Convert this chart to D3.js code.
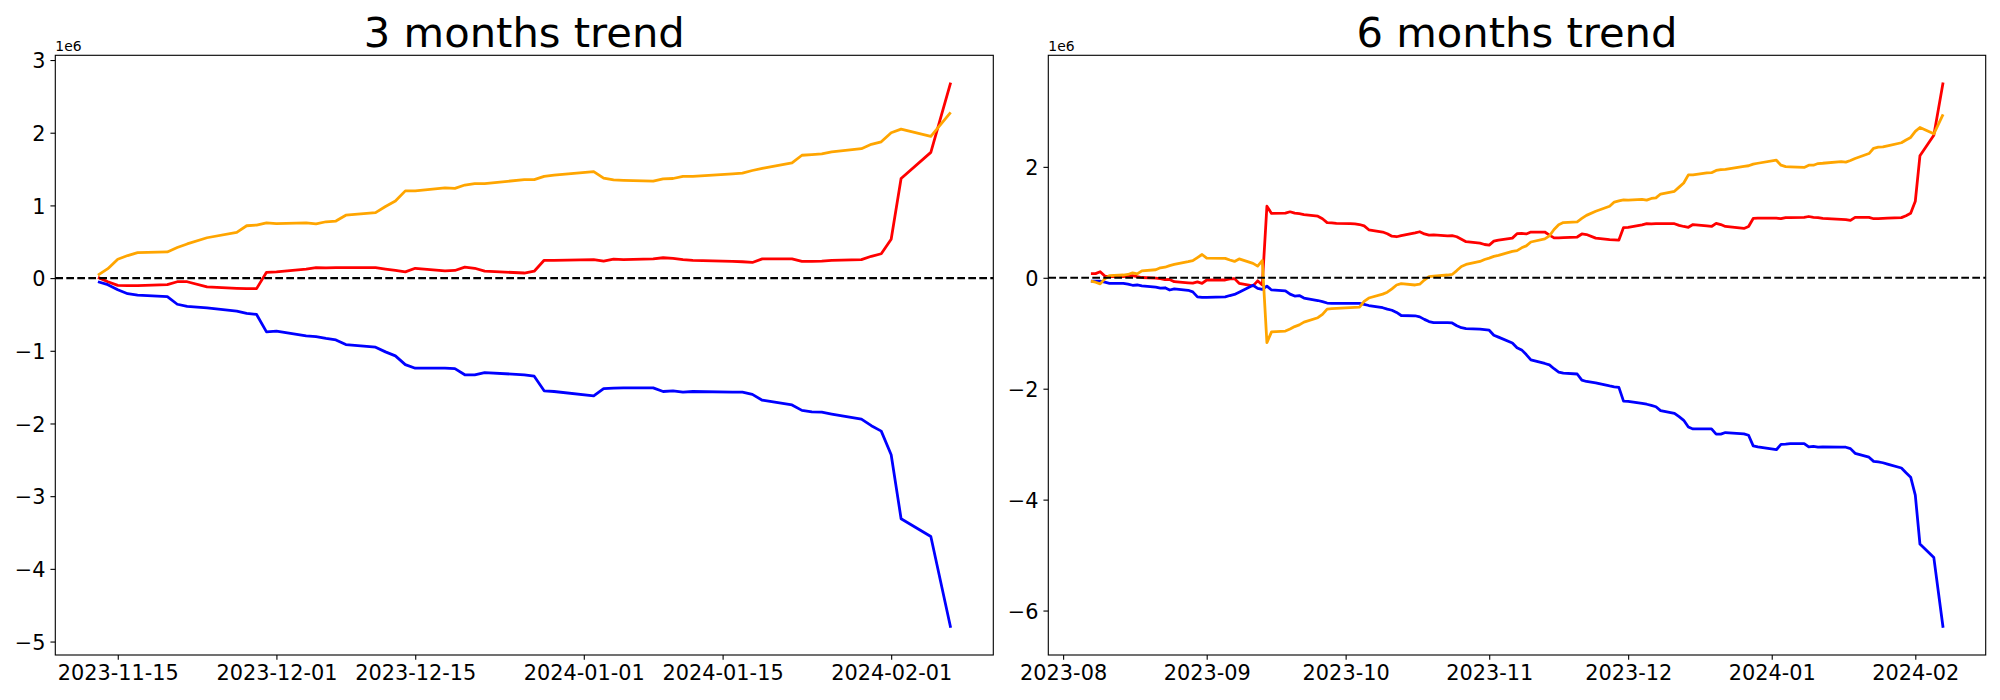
<!DOCTYPE html>
<html>
<head>
<meta charset="utf-8">
<script src="https://cdn.jsdelivr.net/npm/d3@7"></script>
<style>
  html, body { margin: 0; padding: 0; background: #fff; }
  svg { display: block; }
  text { font-family: "DejaVu Sans", sans-serif; fill: #000; }
</style>
</head>
<body>
<svg id="chart" width="2000" height="700"></svg>
<script>
// ---------------- DATA (values in units of 1e6) ----------------
const dates3m = [
  "2023-11-13","2023-11-14","2023-11-15","2023-11-16","2023-11-17",
  "2023-11-20","2023-11-21","2023-11-22","2023-11-24",
  "2023-11-27","2023-11-28","2023-11-29","2023-11-30","2023-12-01",
  "2023-12-04","2023-12-05","2023-12-06","2023-12-07","2023-12-08",
  "2023-12-11","2023-12-12","2023-12-13","2023-12-14","2023-12-15",
  "2023-12-18","2023-12-19","2023-12-20","2023-12-21","2023-12-22",
  "2023-12-26","2023-12-27","2023-12-28","2023-12-29",
  "2024-01-02","2024-01-03","2024-01-04","2024-01-05",
  "2024-01-08","2024-01-09","2024-01-10","2024-01-11","2024-01-12",
  "2024-01-16","2024-01-17","2024-01-18","2024-01-19",
  "2024-01-22","2024-01-23","2024-01-24","2024-01-25","2024-01-26",
  "2024-01-29","2024-01-30","2024-01-31","2024-02-01","2024-02-02",
  "2024-02-05","2024-02-07"
];
const red3m = [
  0.01, -0.05, -0.10, -0.105, -0.105,
  -0.09, -0.05, -0.05, -0.12,
  -0.14, -0.145, -0.145, 0.08, 0.085,
  0.125, 0.145, 0.14, 0.145, 0.145,
  0.145, 0.125, 0.105, 0.085, 0.135,
  0.10, 0.105, 0.15, 0.135, 0.095,
  0.07, 0.095, 0.245, 0.245,
  0.255, 0.235, 0.26, 0.255,
  0.265, 0.28, 0.27, 0.255, 0.245,
  0.23, 0.225, 0.215, 0.265,
  0.265, 0.23, 0.23, 0.235, 0.245,
  0.255, 0.30, 0.335, 0.535, 1.37,
  1.73, 2.69
];
const orange3m = [
  0.04, 0.13, 0.26, 0.31, 0.35,
  0.36, 0.42, 0.47, 0.555,
  0.63, 0.72, 0.73, 0.76, 0.75,
  0.76, 0.745, 0.775, 0.785, 0.865,
  0.90, 0.985, 1.06, 1.20, 1.20,
  1.24, 1.235, 1.28, 1.30, 1.30,
  1.355, 1.355, 1.40, 1.415,
  1.465, 1.375, 1.35, 1.345,
  1.335, 1.365, 1.37, 1.40, 1.40,
  1.435, 1.445, 1.48, 1.51,
  1.585, 1.69, 1.70, 1.71, 1.735,
  1.78, 1.84, 1.875, 2.00, 2.05,
  1.95, 2.28
];
const blue3m = [
  -0.05, -0.09, -0.16, -0.215, -0.235,
  -0.255, -0.36, -0.39, -0.41,
  -0.455, -0.485, -0.50, -0.74, -0.73,
  -0.795, -0.805, -0.83, -0.85, -0.915,
  -0.95, -1.015, -1.07, -1.19, -1.24,
  -1.24, -1.245, -1.33, -1.33, -1.30,
  -1.33, -1.35, -1.55, -1.56,
  -1.62, -1.52, -1.515, -1.51,
  -1.51, -1.56, -1.55, -1.57, -1.56,
  -1.57, -1.57, -1.60, -1.68,
  -1.745, -1.82, -1.84, -1.845, -1.87,
  -1.94, -2.03, -2.105, -2.43, -3.31,
  -3.555, -4.81
];

const dates6m = [
  "2023-08-07","2023-08-08","2023-08-09","2023-08-10","2023-08-11",
  "2023-08-14","2023-08-15","2023-08-16","2023-08-17","2023-08-18",
  "2023-08-21","2023-08-22","2023-08-23","2023-08-24","2023-08-25",
  "2023-08-28","2023-08-29","2023-08-30","2023-08-31",
  "2023-09-01","2023-09-05","2023-09-06","2023-09-07","2023-09-08",
  "2023-09-11","2023-09-12","2023-09-13","2023-09-14","2023-09-15",
  "2023-09-18","2023-09-19","2023-09-20","2023-09-21","2023-09-22",
  "2023-09-25","2023-09-26","2023-09-27","2023-09-28","2023-09-29",
  "2023-10-02","2023-10-03","2023-10-04","2023-10-05","2023-10-06",
  "2023-10-09","2023-10-10","2023-10-11","2023-10-12","2023-10-13",
  "2023-10-16","2023-10-17","2023-10-18","2023-10-19","2023-10-20",
  "2023-10-23","2023-10-24","2023-10-25","2023-10-26","2023-10-27",
  "2023-10-30","2023-10-31","2023-11-01","2023-11-02","2023-11-03",
  "2023-11-06","2023-11-07","2023-11-08","2023-11-09","2023-11-10",
  "2023-11-13","2023-11-14","2023-11-15","2023-11-16","2023-11-17",
  "2023-11-20","2023-11-21","2023-11-22","2023-11-24",
  "2023-11-27","2023-11-28","2023-11-29","2023-11-30","2023-12-01",
  "2023-12-04","2023-12-05","2023-12-06","2023-12-07","2023-12-08",
  "2023-12-11","2023-12-12","2023-12-13","2023-12-14","2023-12-15",
  "2023-12-18","2023-12-19","2023-12-20","2023-12-21","2023-12-22",
  "2023-12-26","2023-12-27","2023-12-28","2023-12-29",
  "2024-01-02","2024-01-03","2024-01-04","2024-01-05",
  "2024-01-08","2024-01-09","2024-01-10","2024-01-11","2024-01-12",
  "2024-01-16","2024-01-17","2024-01-18","2024-01-19",
  "2024-01-22","2024-01-23","2024-01-24","2024-01-25","2024-01-26",
  "2024-01-29","2024-01-30","2024-01-31","2024-02-01","2024-02-02",
  "2024-02-05","2024-02-07"
];
const red6m = [
  0.075, 0.075, 0.11, 0.03, 0.02,
  0.02, 0.03, 0.04, 0.02, 0.005,
  -0.005, -0.015, -0.035, -0.03, -0.07,
  -0.09, -0.095, -0.075, -0.10,
  -0.04, -0.04, -0.02, -0.015, -0.10,
  -0.145, -0.055, -0.13, 1.29, 1.16,
  1.165, 1.19, 1.165, 1.155, 1.14,
  1.11, 1.065, 0.995, 0.99, 0.98,
  0.975, 0.97, 0.96, 0.935, 0.865,
  0.825, 0.795, 0.75, 0.74, 0.76,
  0.81, 0.83, 0.79, 0.77, 0.775,
  0.755, 0.76, 0.74, 0.695, 0.65,
  0.625, 0.60, 0.59, 0.66, 0.68,
  0.715, 0.795, 0.80, 0.79, 0.825,
  0.825, 0.77, 0.72, 0.72, 0.725,
  0.735, 0.79, 0.78, 0.715,
  0.69, 0.685, 0.68, 0.905, 0.91,
  0.955, 0.975, 0.97, 0.975, 0.975,
  0.975, 0.945, 0.925, 0.91, 0.96,
  0.935, 0.925, 0.98, 0.96, 0.925,
  0.89, 0.925, 1.07, 1.075,
  1.075, 1.065, 1.085, 1.085,
  1.09, 1.105, 1.09, 1.085, 1.07,
  1.055, 1.05, 1.035, 1.09,
  1.09, 1.065, 1.065, 1.07, 1.075,
  1.085, 1.12, 1.165, 1.38, 2.20,
  2.57, 3.52
];
const orange6m = [
  -0.06, -0.08, -0.11, -0.02, 0.04,
  0.05, 0.06, 0.09, 0.07, 0.125,
  0.145, 0.18, 0.19, 0.22, 0.24,
  0.29, 0.31, 0.365, 0.42,
  0.355, 0.35, 0.32, 0.295, 0.34,
  0.26, 0.21, 0.31, -1.17, -0.975,
  -0.96, -0.925, -0.88, -0.85, -0.80,
  -0.72, -0.66, -0.565, -0.555, -0.55,
  -0.54, -0.535, -0.53, -0.425, -0.365,
  -0.295, -0.26, -0.20, -0.13, -0.105,
  -0.13, -0.115, -0.04, 0.02, 0.03,
  0.05, 0.06, 0.13, 0.205, 0.24,
  0.295, 0.33, 0.355, 0.385, 0.405,
  0.475, 0.49, 0.54, 0.575, 0.645,
  0.70, 0.755, 0.87, 0.955, 0.995,
  1.01, 1.07, 1.125, 1.20,
  1.29, 1.365, 1.385, 1.405, 1.40,
  1.415, 1.40, 1.43, 1.44, 1.51,
  1.56, 1.635, 1.71, 1.855, 1.855,
  1.89, 1.895, 1.935, 1.95, 1.955,
  2.01, 2.02, 2.05, 2.065,
  2.12, 2.03, 2.005, 2.00,
  1.99, 2.03, 2.03, 2.06, 2.065,
  2.095, 2.085, 2.115, 2.15,
  2.24, 2.335, 2.355, 2.36, 2.38,
  2.435, 2.485, 2.53, 2.64, 2.71,
  2.595, 2.945
];
const blue6m = [
  -0.06, -0.06, -0.06, -0.08, -0.10,
  -0.10, -0.115, -0.135, -0.13, -0.145,
  -0.17, -0.185, -0.18, -0.22, -0.20,
  -0.225, -0.255, -0.345, -0.355,
  -0.355, -0.345, -0.32, -0.30, -0.26,
  -0.135, -0.19, -0.21, -0.15, -0.22,
  -0.235, -0.295, -0.33, -0.32, -0.365,
  -0.41, -0.43, -0.455, -0.46, -0.46,
  -0.46, -0.46, -0.46, -0.48, -0.50,
  -0.54, -0.565, -0.585, -0.625, -0.68,
  -0.685, -0.705, -0.75, -0.79, -0.81,
  -0.81, -0.815, -0.865, -0.90, -0.915,
  -0.925, -0.935, -0.945, -1.035, -1.07,
  -1.175, -1.26, -1.30, -1.385, -1.48,
  -1.545, -1.57, -1.64, -1.70, -1.72,
  -1.735, -1.845, -1.87, -1.895,
  -1.95, -1.965, -1.975, -2.225, -2.23,
  -2.265, -2.28, -2.30, -2.325, -2.395,
  -2.445, -2.505, -2.57, -2.69, -2.725,
  -2.725, -2.725, -2.82, -2.82, -2.79,
  -2.815, -2.84, -3.03, -3.05,
  -3.10, -3.005, -3.00, -2.99,
  -2.99, -3.05, -3.04, -3.055, -3.05,
  -3.055, -3.055, -3.08, -3.165,
  -3.235, -3.31, -3.32, -3.335, -3.36,
  -3.43, -3.515, -3.595, -3.92, -4.80,
  -5.045, -6.31
];

const xTicks3m = ["2023-11-15","2023-12-01","2023-12-15","2024-01-01","2024-01-15","2024-02-01"];
const xTicks6m = ["2023-08-01","2023-09-01","2023-10-01","2023-11-01","2023-12-01","2024-01-01","2024-02-01"];
const yTicks3m = [-5, -4, -3, -2, -1, 0, 1, 2, 3];
const yTicks6m = [-6, -4, -2, 0, 2];
const titles = ["3 months trend", "6 months trend"];
const seriesColors = ["red", "blue", "orange"];

// ---------------- DRAWING ----------------
const svg = d3.select("#chart");
const parse = d3.utcParse("%Y-%m-%d");
const plotTop = 55.3, plotBottom = 655;
const panels = [
  { left: 55.3, right: 993.3, dates: dates3m, series: [red3m, blue3m, orange3m],
    xTicks: xTicks3m, xFmt: d3.utcFormat("%Y-%m-%d"), yTicks: yTicks3m, title: titles[0] },
  { left: 1048.3, right: 1985.7, dates: dates6m, series: [red6m, blue6m, orange6m],
    xTicks: xTicks6m, xFmt: d3.utcFormat("%Y-%m"), yTicks: yTicks6m, title: titles[1] }
];

const tickLen = 4.86, tickPad = 4.86;
const fmtY = v => (v < 0 ? "\u2212" + Math.abs(v) : String(v));

panels.forEach(p => {
  const dts = p.dates.map(parse);
  const [d0, d1] = d3.extent(dts);
  const span = d1 - d0;
  const x = d3.scaleUtc()
    .domain([new Date(+d0 - 0.05 * span), new Date(+d1 + 0.05 * span)])
    .range([p.left, p.right]);
  const allVals = p.series.flat();
  const [v0, v1] = d3.extent(allVals);
  const vr = v1 - v0;
  const y = d3.scaleLinear()
    .domain([v0 - 0.05 * vr, v1 + 0.05 * vr])
    .range([plotBottom, plotTop]);

  const g = svg.append("g");

  const line = d3.line().x((d, i) => x(dts[i])).y(d => y(d));
  p.series.forEach((s, k) => {
    g.append("path")
      .datum(s)
      .attr("d", line)
      .attr("fill", "none")
      .attr("stroke", seriesColors[k])
      .attr("stroke-width", 2.78)
      .attr("stroke-linejoin", "round")
      .attr("stroke-linecap", "butt");
  });

  g.append("line")
    .attr("x1", p.left).attr("x2", p.right)
    .attr("y1", y(0)).attr("y2", y(0))
    .attr("stroke", "#000")
    .attr("stroke-width", 2.08)
    .attr("stroke-dasharray", "7.7,3.3");

  const xAxis = d3.axisBottom(x)
    .tickValues(p.xTicks.map(parse))
    .tickFormat(p.xFmt)
    .tickSizeInner(tickLen).tickSizeOuter(0).tickPadding(tickPad);
  const gx = g.append("g").attr("transform", `translate(0,${plotBottom})`).call(xAxis);
  gx.select(".domain").remove();
  gx.selectAll(".tick line").attr("stroke", "#000").attr("stroke-width", 1.11);
  gx.selectAll(".tick text")
    .attr("font-family", "DejaVu Sans")
    .attr("font-size", 20.83)
    .attr("fill", "#000")
    .attr("dy", "0.74em");

  const yAxis = d3.axisLeft(y)
    .tickValues(p.yTicks)
    .tickFormat(fmtY)
    .tickSizeInner(tickLen).tickSizeOuter(0).tickPadding(tickPad);
  const gy = g.append("g").attr("transform", `translate(${p.left},0)`).call(yAxis);
  gy.select(".domain").remove();
  gy.selectAll(".tick line").attr("stroke", "#000").attr("stroke-width", 1.11);
  gy.selectAll(".tick text")
    .attr("font-family", "DejaVu Sans")
    .attr("font-size", 20.83)
    .attr("fill", "#000")
    .attr("dy", "0.37em");

  g.append("rect")
    .attr("x", p.left).attr("y", plotTop)
    .attr("width", p.right - p.left).attr("height", plotBottom - plotTop)
    .attr("fill", "none").attr("stroke", "#000").attr("stroke-width", 1.11);

  g.append("text")
    .attr("x", p.left).attr("y", 51)
    .attr("font-size", 13.9)
    .text("1e6");

  g.append("text")
    .attr("x", (p.left + p.right) / 2).attr("y", 47)
    .attr("text-anchor", "middle")
    .attr("font-size", 41.67)
    .text(p.title);
});
</script>
</body>
</html>
